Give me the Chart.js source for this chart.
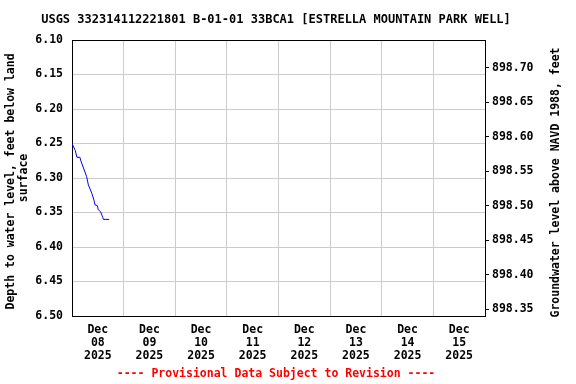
<!DOCTYPE html>
<html><head><meta charset="utf-8">
<script src="https://cdn.jsdelivr.net/npm/chart.js@4"></script>
<style>html,body{margin:0;padding:0;background:#fff}#wrap{width:576px;height:384px}</style>
</head><body><div id="wrap"><canvas id="c" width="576" height="384"></canvas></div>
<script>
const TITLE = 'USGS 332314112221801 B-01-01 33BCA1 [ESTRELLA MOUNTAIN PARK WELL]';
const FOOTNOTE = '---- Provisional Data Subject to Revision ----';
const LEFT_TITLE = ['Depth to water level, feet below land ', 'surface'];
const RIGHT_TITLE = 'Groundwater level above NAVD 1988, feet';

// hours since Dec 08 2025 00:00
const hoursSinceDec08 = [0, 1.5, 2.3, 3.7, 4.0, 6.8, 7.6, 9.2, 10.2, 10.7, 11.8, 12.2, 13.3, 14.3, 14.6, 17.3];
const depthFt = [6.25, 6.26, 6.27, 6.27, 6.274, 6.298, 6.31, 6.322, 6.332, 6.339, 6.34, 6.346, 6.349, 6.357, 6.36, 6.36];

const monthLabel = 'Dec';
const dayLabels = ['08', '09', '10', '11', '12', '13', '14', '15'];
const yearLabel = '2025';
const depthTicks = [6.10, 6.15, 6.20, 6.25, 6.30, 6.35, 6.40, 6.45, 6.50];
const elevTicks = [898.35, 898.40, 898.45, 898.50, 898.55, 898.60, 898.65, 898.70];
const DATUM = 904.84; // elevation = DATUM - depth

const FONT = "'DejaVu Sans Mono', monospace";
const GRID = '#cccccc';
const SZ = 11.5;

const rightTitlePlugin = {
  id: 'rightTitle',
  afterDraw(chart) {
    const ctx = chart.ctx, a = chart.chartArea;
    ctx.save();
    ctx.font = 'bold ' + SZ + 'px ' + FONT;
    ctx.fillStyle = '#000';
    ctx.textAlign = 'center';
    ctx.textBaseline = 'middle';
    ctx.translate(556, (a.top + a.bottom) / 2 + 4.5);
    ctx.rotate(-Math.PI / 2);
    ctx.fillText(RIGHT_TITLE, 0, 0);
    ctx.restore();
  }
};

const xTickValues = [];
for (let h = 0; h <= 24 * dayLabels.length; h += 12) xTickValues.push(h);

new Chart(document.getElementById('c'), {
  type: 'line',
  data: {
    datasets: [{
      data: hoursSinceDec08.map((h, i) => ({x: h, y: depthFt[i]})),
      borderColor: '#0000ff',
      borderWidth: 1,
      pointRadius: 0,
      fill: false,
      tension: 0,
      yAxisID: 'y'
    }]
  },
  options: {
    responsive: false,
    animation: false,
    devicePixelRatio: 1,
    layout: {padding: {left: 0, right: 24, top: 0, bottom: 0}},
    plugins: {
      legend: {display: false},
      tooltip: {enabled: false},
      title: {
        display: true, text: TITLE, color: '#000',
        font: {family: FONT, size: 12, weight: 'bold', lineHeight: 1.2},
        padding: {top: 13, bottom: 12.6}
      },
      subtitle: {
        display: true, position: 'bottom', text: FOOTNOTE, color: '#ff0000',
        font: {family: FONT, size: SZ, weight: 'bold', lineHeight: 1.2},
        padding: {top: 4, bottom: 2.7}
      }
    },
    scales: {
      x: {
        type: 'linear', min: 0, max: 24 * dayLabels.length,
        afterBuildTicks: s => { s.ticks = xTickValues.map(v => ({value: v})); },
        afterFit: s => { s.height = 47.5; s.paddingLeft = 0; s.paddingRight = 0; },
        ticks: {
          autoSkip: false, maxRotation: 0, minRotation: 0, padding: 8, color: '#000',
          font: {family: FONT, size: SZ, weight: 'bold', lineHeight: 1.12},
          callback: v => (v % 24 === 12) ? [monthLabel, dayLabels[Math.floor(v / 24)], yearLabel] : ''
        },
        grid: {
          drawTicks: false,
          color: c => {
            const v = c.tick ? c.tick.value : 0;
            if (v % 24 !== 0) return 'rgba(0,0,0,0)';
            return (v === 0 || v === 24 * dayLabels.length) ? '#000' : GRID;
          }
        },
        border: {display: true, color: '#000', width: 1}
      },
      y: {
        type: 'linear', position: 'left', reverse: true, min: 6.10, max: 6.50,
        afterBuildTicks: s => { s.ticks = depthTicks.map(v => ({value: v})); },
        afterFit: s => { s.width = 72; s.paddingTop = 0; s.paddingBottom = 0; },
        ticks: {
          padding: 9, color: '#000',
          font: {family: FONT, size: SZ, weight: 'bold'},
          callback: v => Number(v).toFixed(2)
        },
        grid: {
          drawTicks: false,
          color: c => (c.tick && Math.abs(c.tick.value - 6.10) < 1e-6) ? '#000' : GRID
        },
        border: {display: true, color: '#000', width: 1},
        title: {
          display: true, text: LEFT_TITLE, color: '#000',
          font: {family: FONT, size: SZ, weight: 'bold', lineHeight: 1.12},
          padding: {top: 5, bottom: 0}
        }
      },
      yR: {
        type: 'linear', position: 'right',
        min: DATUM - 6.50, max: DATUM - 6.10,
        afterBuildTicks: s => { s.ticks = elevTicks.map(v => ({value: v})); },
        afterFit: s => { s.width = 67; s.paddingTop = 0; s.paddingBottom = 0; },
        ticks: {
          padding: 3, color: '#000',
          font: {family: FONT, size: SZ, weight: 'bold'},
          callback: v => Number(v).toFixed(2)
        },
        grid: {drawOnChartArea: false, drawTicks: true, tickLength: 4, color: '#000'},
        border: {display: true, color: '#000', width: 1}
      }
    }
  },
  plugins: [rightTitlePlugin]
});
</script>
</body></html>
